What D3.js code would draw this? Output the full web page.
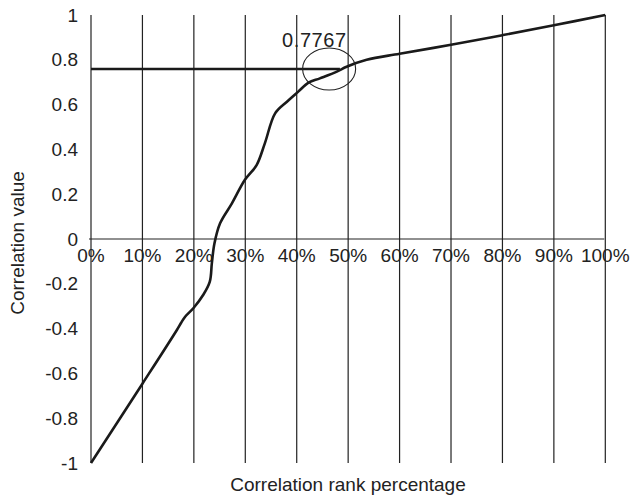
<!DOCTYPE html>
<html><head><meta charset="utf-8">
<script src="https://cdn.jsdelivr.net/npm/d3@7"></script>
<style>body{margin:0;background:#fff}svg{display:block}text{font-family:"Liberation Sans",Arial,sans-serif;fill:#222}</style>
</head><body><svg id="c" width="632" height="502"></svg>
<script>
const rankPct = [0, 10, 16.7, 17.5, 18.3, 19.9, 21.8, 23.1, 23.5, 24.0, 25.1, 27.4, 29.9, 32.2, 33.8, 35.8, 38.1, 40.3, 42.3, 44.5, 47.8, 49.7, 53.6, 60, 70, 80, 90, 100];
const corrVal = [-1.0, -0.646, -0.406, -0.375, -0.347, -0.309, -0.25, -0.19, -0.108, -0.02, 0.07, 0.159, 0.263, 0.33, 0.427, 0.561, 0.613, 0.658, 0.698, 0.717, 0.747, 0.769, 0.80, 0.827, 0.867, 0.91, 0.954, 1.0];
const xTicks = [0,10,20,30,40,50,60,70,80,90,100];
const yTicks = [1,0.8,0.6,0.4,0.2,0,-0.2,-0.4,-0.6,-0.8,-1];
const guideValue = 0.759, guideEndPct = 48.4, guideLabel = "0.7767";

const svg = d3.select("#c");
const x = d3.scaleLinear().domain([0,100]).range([91,605.3]);
const y = d3.scaleLinear().domain([-1,1]).range([463,15]);
const fs = 19;

// vertical gridlines
svg.append("g").selectAll("line").data(xTicks).join("line")
  .attr("x1",d=>x(d)).attr("x2",d=>x(d)).attr("y1",y(1)).attr("y2",y(-1))
  .attr("stroke","#222").attr("stroke-width",1.2);
// zero line
svg.append("line").attr("x1",x(0)-2).attr("x2",x(100)-1).attr("y1",y(0)).attr("y2",y(0))
  .attr("stroke","#222").attr("stroke-width",1.2);

// y tick labels
svg.append("g").selectAll("text").data(yTicks).join("text")
  .attr("x",78).attr("y",d=>y(d)+1.5).attr("text-anchor","end").attr("dominant-baseline","middle")
  .attr("font-size",fs).text(d=>String(d));
// x tick labels
svg.append("g").selectAll("text").data(xTicks).join("text")
  .attr("x",d=>x(d)).attr("y",262).attr("text-anchor","middle")
  .attr("font-size",fs).text(d=>d+"%");

// guide line
svg.append("line").attr("x1",x(0)).attr("x2",x(guideEndPct)).attr("y1",y(guideValue)).attr("y2",y(guideValue))
  .attr("stroke","#1a1a1a").attr("stroke-width",2.6);

// curve
const pts = rankPct.map((p,i)=>[p,corrVal[i]]);
svg.append("path").datum(pts)
  .attr("d",d3.line().x(d=>x(d[0])).y(d=>y(d[1])).curve(d3.curveCatmullRom.alpha(0.5)))
  .attr("fill","none").attr("stroke","#1a1a1a").attr("stroke-width",2.6).attr("stroke-linejoin","round");

// ellipse annotation
svg.append("ellipse").attr("cx",x(46.3)).attr("cy",y(guideValue)).attr("rx",26.5).attr("ry",21)
  .attr("fill","none").attr("stroke","#222").attr("stroke-width",1.1);
svg.append("text").attr("x",282).attr("y",46.5).attr("font-size",20)
  .attr("letter-spacing",0.6).text(guideLabel);

// axis titles
svg.append("text").attr("x",348).attr("y",491).attr("text-anchor","middle").attr("font-size",fs).text("Correlation rank percentage");
svg.append("text").attr("transform","translate(24,243) rotate(-90)").attr("text-anchor","middle").attr("font-size",fs).text("Correlation value");
</script></body></html>
